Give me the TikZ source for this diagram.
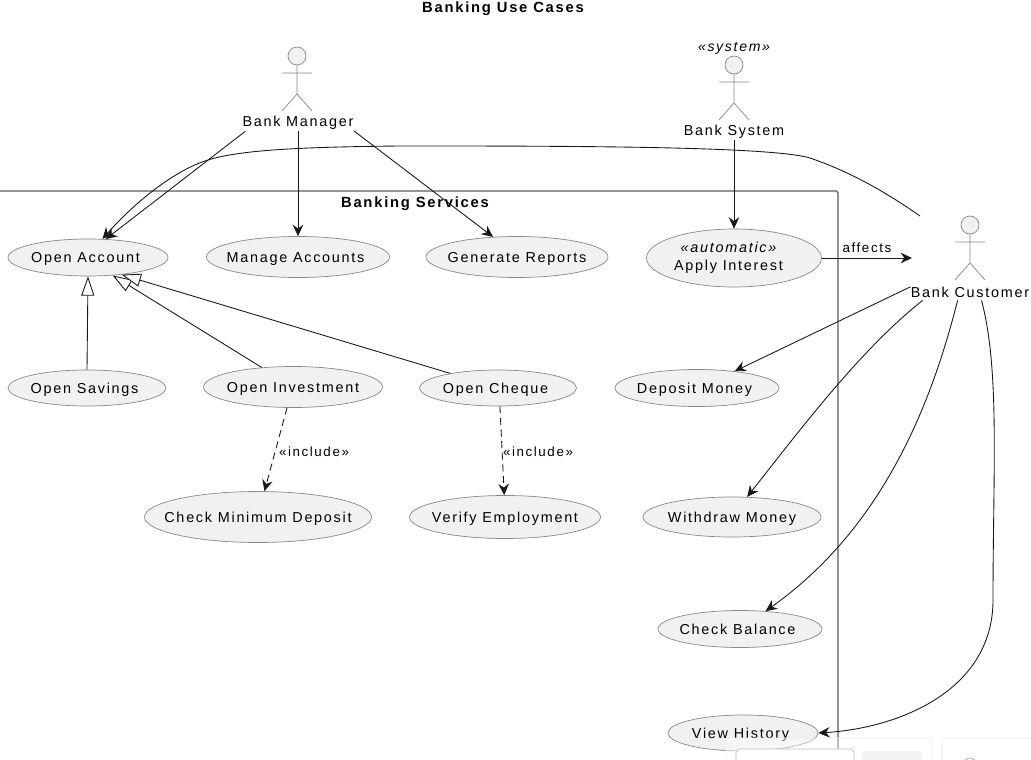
\documentclass[tikz,border=0pt]{standalone}
\usepackage{fontspec}
\setmainfont[LetterSpace=12]{Liberation Sans}
\usetikzlibrary{arrows.meta,shapes.geometric}
\definecolor{casefill}{HTML}{F1F1F1}
\definecolor{caseline}{HTML}{888888}
\definecolor{wireline}{HTML}{181818}
\definecolor{frameline}{HTML}{5A5A5A}
\newcommand{\lefted}{\hspace*{0.1cm}}
\tikzset{
  px/.style={x=0.02cm,y=-0.02cm},
  usecase/.style 2 args={ellipse,draw=caseline,fill=casefill,inner xsep=-30pt,inner ysep=-12pt,
    text height=7.7pt,text depth=2pt,font=\fontsize{8.2}{10.2}\selectfont,
    minimum width=#1*0.02cm,minimum height=#2*0.02cm},
  actorname/.style={inner sep=0pt,minimum height=0.32cm,font=\fontsize{8.2}{10}\selectfont},
  boldname/.style={inner sep=0pt,font=\fontsize{8.4}{10}\selectfont\bfseries},
  wire/.style={draw=wireline,line width=0.5pt,-{Stealth[length=6.5pt,width=6pt,inset=2.2pt]}},
  dashwire/.style={wire,dash pattern=on 4pt off 2.6pt},
  extends/.style={draw=wireline,line width=0.5pt,-{Triangle[open,length=11pt,width=7.5pt,fill=white]}},
  wirelabel/.style={inner sep=0pt,font=\fontsize{7.6}{9}\selectfont},
  panel/.style={draw=black!8,fill=white,fill opacity=0.4,rounded corners=2pt},
  stick/.pic={
    \draw[caseline,fill=casefill] (0,0) circle (0.18cm);
    \draw[caseline] (0,9) -- (0,38) (-15,17) -- (15,17)
      (-15,55) -- (0,38) -- (15,55);
  }
}
\begin{document}
\begin{tikzpicture}[px]
  \useasboundingbox (0,0) rectangle (1031,760);

  % Titles and system boundary
  \node[boldname] (title) at (503,9) {Banking Use Cases};
  \draw[frameline,line width=0.8pt,rounded corners=1pt] (-10,191) -- (838,191) -- (838,770);
  \node[boldname] (services) at (415,204) {Banking Services};

  % Actors
  \pic at (297,56) {stick};
  \pic at (734,65) {stick};
  \pic at (970,225) {stick};
  \node[actorname] (manager) at (298,123) {Bank Manager};
  \node[actorname] (bank) at (734,132) {Bank System};
  \node[actorname] (customer) at (970,292) {Bank Customer};
  \node[inner sep=0pt,font=\fontsize{8}{10}\selectfont\itshape] (stereo) at (734,48) {«system»};

  % Use cases
  \node[usecase={160}{37}] (account) at (88,257.5) {Open Account\lefted};
  \node[usecase={183}{41}] (manage) at (298,257) {Manage Accounts\lefted};
  \node[usecase={182}{41}] (reports) at (517,257) {Generate Reports};
  \node[usecase={175}{58},align=center,text height={},text depth={}] (interest) at (734,258)
    {{\itshape «automatic»}\hspace*{0.22cm}\\Apply Interest\hspace*{0.22cm}};
  \node[usecase={158}{36}] (savings) at (87,388) {Open Savings\lefted};
  \node[usecase={179}{41}] (investment) at (293,387) {Open Investment};
  \node[usecase={157}{36}] (cheque) at (498,388) {Open Cheque\lefted};
  \node[usecase={227}{51}] (minimum) at (258,517) {Check Minimum Deposit};
  \node[usecase={191}{43}] (employment) at (505,517) {Verify Employment};
  \node[usecase={164}{37}] (deposit) at (697,388) {Deposit Money\lefted};
  \node[usecase={178}{40}] (withdraw) at (732,517) {Withdraw Money};
  \node[usecase={164}{37}] (balance) at (740,629) {Check Balance\lefted};
  \node[usecase={150}{36}] (history) at (743,733) {View History\lefted};

  % Free ends at the customer
  \coordinate (custtop) at (920,216);
  \coordinate (custleft) at (912,258);

  % Manager and system
  \draw[wire] (manager.189) -- (account.46);
  \draw[wire] (manager.south) -- (manage.north);
  \draw[wire] (manager.-8) -- (reports.140);
  \draw[wire] (bank.south) -- (interest.north);

  % Customer
  \draw[wire] (custtop) .. controls (880,188) and (845,170) .. (810,158)
    .. controls (770,146) and (560,146) .. (400,146)
    .. controls (300,147) and (240,150) .. (208,160)
    .. controls (175,170) and (135,202) .. (account.52);
  \draw[wire] (interest.east) -- node[wirelabel,above,yshift=0.1cm] (affects) {affects} (custleft);
  \draw[wire] (customer.175) -- (deposit.24);
  \draw[wire] (customer.190) .. controls (860,350) and (800,430) .. (withdraw.53);
  \draw[wire] (customer.214) .. controls (930,410) and (880,530) .. (balance.35);
  \draw[wire] (customer.324) .. controls (1000,370) and (993,470) .. (993,600)
    .. controls (993,690) and (900,728) .. (history.east);

  % Generalisation
  \draw[extends] (savings.north) -- (account.south);
  \draw[extends] (investment.148) -- (account.-36);
  \draw[extends] (cheque.163) -- (account.-27);

  % Includes
  \draw[dashwire] (investment.-106) -- (minimum.76);
  \draw[dashwire] (cheque.-84) -- (employment.92);
  \node[wirelabel] (incleft) at (314,452) {«include»};
  \node[wirelabel] (incright) at (538,452) {«include»};

  % Panels along the bottom edge
  \path[panel] (726,738) rectangle (932,775);
  \path[panel,fill opacity=1] (942,738) rectangle (1040,775);
  \path[panel,fill opacity=1,draw=black!25] (736,749) rectangle (854,775);
  \path[panel,fill opacity=1,draw=none,fill=blue!5!black!5] (862,751) rectangle (922,775);
  \draw[black!35] (970,764) circle (6);
\end{tikzpicture}
\end{document}
